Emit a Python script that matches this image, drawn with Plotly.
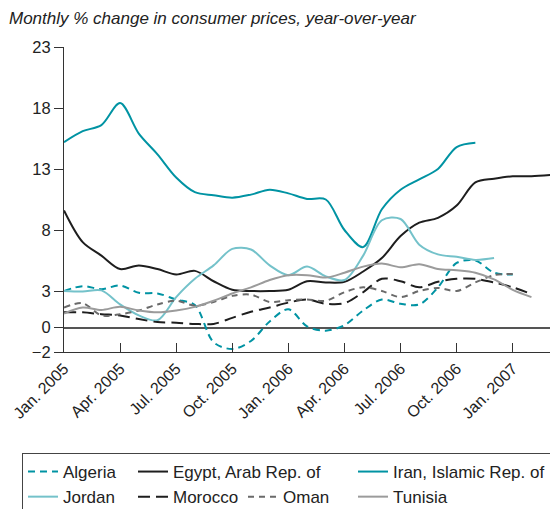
import plotly.graph_objects as go

# ---- data (monthly, Jan 2005 onward) ----
months = ["Jan 2005", "Feb 2005", "Mar 2005", "Apr 2005", "May 2005", "Jun 2005",
          "Jul 2005", "Aug 2005", "Sep 2005", "Oct 2005", "Nov 2005", "Dec 2005",
          "Jan 2006", "Feb 2006", "Mar 2006", "Apr 2006", "May 2006", "Jun 2006",
          "Jul 2006", "Aug 2006", "Sep 2006", "Oct 2006", "Nov 2006", "Dec 2006",
          "Jan 2007", "Feb 2007", "Mar 2007"]

algeria = [3.0, 3.4, 3.15, 3.45, 2.85, 2.8, 2.3, 1.85, -1.2, -1.75, -1.1, 0.5, 1.5,
           0.1, -0.25, 0.2, 1.4, 2.3, 1.95, 1.9, 3.3, 5.3, 5.5, 4.5, 4.35]
egypt = [9.6, 7.0, 5.9, 4.8, 5.1, 4.8, 4.35, 4.65, 3.8, 3.1, 3.0, 3.0, 3.1, 3.8,
         3.7, 3.75, 4.6, 5.7, 7.5, 8.6, 9.0, 10.0, 11.9, 12.2, 12.4, 12.4, 12.5]
iran = [15.2, 16.1, 16.6, 18.4, 15.9, 14.2, 12.3, 11.1, 10.85, 10.65, 10.9, 11.3,
        11.0, 10.55, 10.5, 8.0, 6.6, 9.7, 11.3, 12.15, 13.0, 14.8, 15.15]
jordan = [3.0, 2.95, 3.05, 1.9, 1.0, 0.6, 2.5, 4.0, 5.1, 6.45, 6.4, 5.1, 4.3, 5.0,
          4.2, 3.9, 5.9, 8.8, 8.9, 6.8, 6.0, 5.8, 5.55, 5.7]
morocco = [1.25, 1.25, 1.1, 1.0, 0.7, 0.45, 0.4, 0.3, 0.3, 0.8, 1.3, 1.65, 2.05,
           2.3, 1.95, 2.0, 2.9, 4.0, 3.8, 3.3, 3.75, 4.0, 4.0, 3.7, 3.3, 2.75]
oman = [1.65, 2.0, 1.0, 1.1, 1.4, 1.9, 2.2, 1.8, 2.1, 2.6, 2.7, 2.1, 2.25, 2.3,
        2.2, 2.9, 3.3, 3.0, 2.5, 3.0, 3.25, 3.0, 3.7, 4.3, 4.4]
tunisia = [1.15, 1.65, 1.45, 1.7, 1.4, 1.25, 1.4, 1.7, 2.2, 2.8, 3.3, 3.9, 4.3,
           4.3, 4.1, 4.5, 5.0, 5.25, 4.95, 5.2, 4.8, 4.7, 4.5, 3.95, 3.1, 2.5]

tick_months = [0, 3, 6, 9, 12, 15, 18, 21, 24]
tick_labels = ["Jan. 2005", "Apr. 2005", "Jul. 2005", "Oct. 2005", "Jan. 2006",
               "Apr. 2006", "Jul. 2006", "Oct. 2006", "Jan. 2007"]
y_ticks = [-2, 0, 3, 8, 13, 18, 23]

TEAL = "#0093a3"
LTEAL = "#74c2ca"
BLACK = "#1e1e1e"
DGRAY = "#6a6a6a"
LGRAY = "#9b9b9b"

series = [
    ("Algeria", algeria, TEAL, "7px,5px"),
    ("Egypt, Arab Rep. of", egypt, BLACK, "solid"),
    (" ", None, None, None),
    ("Iran, Islamic Rep. of", iran, TEAL, "solid"),
    ("  ", None, None, None),
    ("Jordan", jordan, LTEAL, "solid"),
    ("Morocco", morocco, BLACK, "12px,6px"),
    ("Oman", oman, DGRAY, "6px,5px"),
    ("Tunisia", tunisia, LGRAY, "solid"),
]

fig = go.Figure()
for name, vals, color, dash in series:
    if vals is None:
        # empty legend slot used as a spacer
        fig.add_trace(go.Scatter(x=[None], y=[None], mode="lines", name=name,
                                 line=dict(width=0, color="rgba(0,0,0,0)"),
                                 hoverinfo="skip"))
        continue
    fig.add_trace(go.Scatter(
        x=list(range(len(vals))), y=vals, mode="lines", name=name,
        line=dict(color=color, width=2, dash=dash, shape="spline", smoothing=0.9),
    ))

FONT = "Liberation Sans, Arial, Helvetica, sans-serif"
x_end = 26.26

# page body has an 8px margin: figure is 550x501 so it ends at the window edge
W, H = 550, 501
fig.update_layout(
    width=W, height=H,
    margin=dict(l=56, r=3, t=39, b=157, autoexpand=False),
    paper_bgcolor="white", plot_bgcolor="white",
    font=dict(family=FONT, size=16, color="#222"),
    title=dict(text="<i>Monthly % change in consumer prices, year-over-year</i>",
               x=1 / W, xanchor="left", xref="container",
               y=1 - 10 / H, yanchor="middle", yref="container",
               font=dict(family=FONT, size=17, color="#222")),
    xaxis=dict(range=[0, x_end], tickmode="array", tickvals=tick_months,
               ticktext=tick_labels, tickangle=-45, ticks="inside", ticklen=9,
               tickcolor="#333", tickwidth=1.2, showline=True, linecolor="#333",
               linewidth=1.2, showgrid=False, zeroline=False,
               tickfont=dict(family=FONT, size=16, color="#222")),
    xaxis2=dict(range=[0, x_end], overlaying="x", anchor="y", side="bottom",
                tickmode="array", tickvals=tick_months, ticktext=[""] * len(tick_months),
                ticks="outside", ticklen=9, tickcolor="#333", tickwidth=1.2,
                showline=False, showgrid=False, zeroline=False, showticklabels=False),
    yaxis=dict(range=[-2, 23], tickmode="array", tickvals=y_ticks,
               ticks="outside", ticklen=9, tickcolor="#333", tickwidth=1.2,
               showline=True, linecolor="#333", linewidth=1.2, showgrid=False,
               zeroline=True, zerolinecolor="#555", zerolinewidth=1.5,
               tickfont=dict(family=FONT, size=16.5, color="#222")),
    legend=dict(orientation="h", x=(14 - 56) / 491, xanchor="left",
                y=(344 - 445) / 305, yanchor="top",
                entrywidth=65, entrywidthmode="pixels",
                bordercolor="#444", borderwidth=1, bgcolor="white",
                font=dict(family=FONT, size=17, color="#222"),
                traceorder="normal", itemwidth=30),
    showlegend=True,
)

fig.write_html("out.html")
